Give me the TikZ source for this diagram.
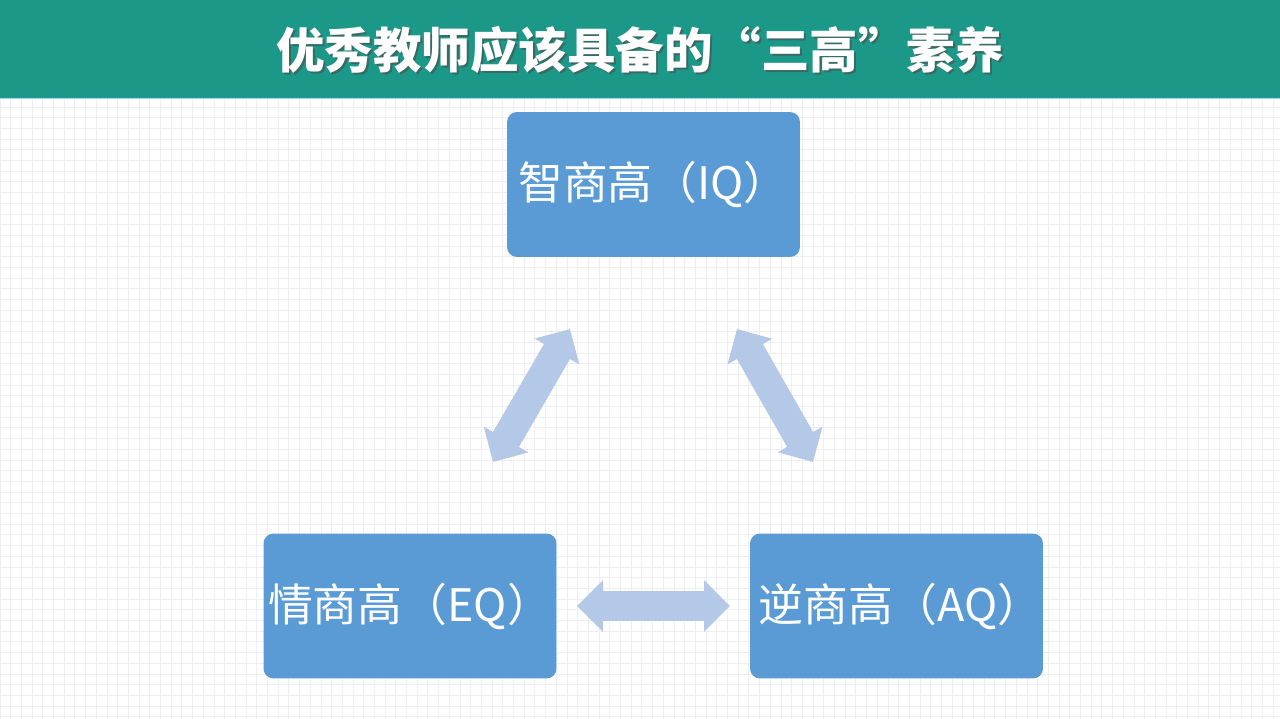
\documentclass[tikz,border=0pt]{standalone}
\usepackage{fontspec}
\newfontfamily\cjk{Noto Sans CJK SC}
\usetikzlibrary{positioning,arrows.meta}
\definecolor{barteal}{HTML}{1B9887}
\definecolor{boxblue}{HTML}{5B9BD5}
\definecolor{arrowblue}{HTML}{B4C9E7}
\definecolor{gridgray}{HTML}{EEEEF1}
\tikzset{
  gridline/.style={draw=gridgray, line width=0.5pt},
  qbox/.style={rectangle, rounded corners=0.2cm, fill=boxblue, text=white, inner xsep=0pt, minimum width=5.86cm, minimum height=2.9cm, font=\cjk\fontsize{25.5}{30}\selectfont},
  titletext/.style={text=white, font=\cjk\bfseries\fontsize{27.6}{32}\selectfont},
  fatarrow/.style={draw=arrowblue, line width=0.6cm, {Triangle[length=0.52cm,width=1cm]}-{Triangle[length=0.52cm,width=1cm]}}
}
\begin{document}
\begin{tikzpicture}[x=0.02cm, y=-0.02cm]
  \useasboundingbox (0,0) rectangle (1280,719);
  % background grid and title bar
  \fill[white] (0,0) rectangle (1280,719);
  \draw[gridline, step=0.214cm] (0,98) grid (1280,719);
  \fill[barteal] (0,0) rectangle (1280,98);
  \draw[cyan!40, line width=1pt] (0,98.5) -- (1280,98.5);
  \node[titletext, text=black!70, opacity=0.6] (titleshadow) at (642,52) {优秀教师应该具备的“三高”素养};
  \node[titletext] (title) at (640,50) {优秀教师应该具备的“三高”素养};
  % the three boxes
  \node[qbox] (iq) at (653.5,184.5) {智商高（IQ）\hspace{0.4cm}};
  \node[qbox] (eq) at (410,606) {情商高（EQ）\hspace{0.4cm}};
  \node[qbox] (aq) at (896.5,606) {\hspace*{0.16cm}逆商高（AQ）\hspace{-0.16cm}};
  % arrow ends
  \coordinate (iqleft) at (570,329);
  \coordinate (eqtop) at (493,462);
  \coordinate (iqright) at (737,329);
  \coordinate (aqtop) at (813,462);
  \coordinate (eqright) at (577,606);
  \coordinate (aqleft) at (730,606);
  \draw[fatarrow] (eqtop) -- (iqleft);
  \draw[fatarrow] (iqright) -- (aqtop);
  \draw[fatarrow] (eqright) -- (aqleft);
\end{tikzpicture}
\end{document}
